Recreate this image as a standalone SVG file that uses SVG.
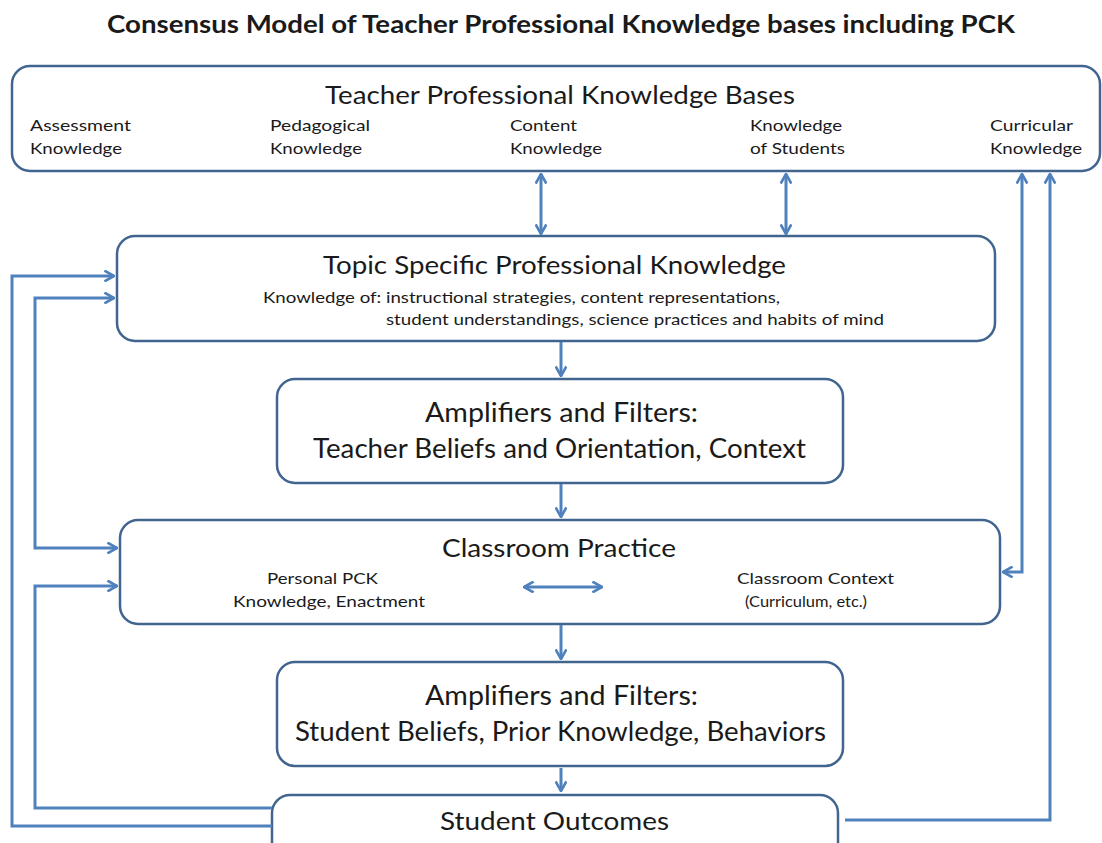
<svg xmlns="http://www.w3.org/2000/svg" width="1102" height="843" viewBox="0 0 1102 843">
<style>
.box{fill:#fff;stroke:#41658f;stroke-width:2.5}
.t{font-family:Lato,"Liberation Sans",sans-serif;fill:#1a1a1a}
.h{font-size:25px}
.s{font-size:15px}
.b{font-size:26px}
.c{fill:none;stroke:#4f81bd;stroke-width:3}
</style>
<defs>
<marker id="ah" markerWidth="12" markerHeight="12" refX="9" refY="5" orient="auto-start-reverse" markerUnits="userSpaceOnUse" viewBox="0 0 10 10">
<path d="M1,0.5 L9,5 L1,9.5" fill="none" stroke="#4f81bd" stroke-width="2.2"/>
</marker>
</defs>
<rect width="1102" height="843" fill="#fff"/>
<text class="t" x="107" y="33" font-size="24" font-weight="bold" textLength="908" lengthAdjust="spacingAndGlyphs">Consensus Model of Teacher Professional Knowledge bases including PCK</text>

<g id="knowledge-bases">
<rect class="box" x="12" y="66" width="1088" height="105" rx="18"/>
<text class="t h" x="325" y="104" textLength="470" lengthAdjust="spacingAndGlyphs">Teacher Professional Knowledge Bases</text>
<text class="t s" x="30" y="131" textLength="101" lengthAdjust="spacingAndGlyphs">Assessment</text>
<text class="t s" x="30" y="154" textLength="92" lengthAdjust="spacingAndGlyphs">Knowledge</text>
<text class="t s" x="270" y="131" textLength="100" lengthAdjust="spacingAndGlyphs">Pedagogical</text>
<text class="t s" x="270" y="154" textLength="92" lengthAdjust="spacingAndGlyphs">Knowledge</text>
<text class="t s" x="510" y="131" textLength="67" lengthAdjust="spacingAndGlyphs">Content</text>
<text class="t s" x="510" y="154" textLength="92" lengthAdjust="spacingAndGlyphs">Knowledge</text>
<text class="t s" x="750" y="131" textLength="92" lengthAdjust="spacingAndGlyphs">Knowledge</text>
<text class="t s" x="750" y="154" textLength="95" lengthAdjust="spacingAndGlyphs">of Students</text>
<text class="t s" x="990" y="131" textLength="83" lengthAdjust="spacingAndGlyphs">Curricular</text>
<text class="t s" x="990" y="154" textLength="92" lengthAdjust="spacingAndGlyphs">Knowledge</text>
</g>

<g id="topic-specific">
<rect class="box" x="117" y="236" width="878" height="105" rx="18"/>
<text class="t h" x="323" y="274" textLength="463" lengthAdjust="spacingAndGlyphs">Topic Specific Professional Knowledge</text>
<text class="t s" x="263" y="303" textLength="517" lengthAdjust="spacingAndGlyphs">Knowledge of: instructional strategies, content representations,</text>
<text class="t s" x="386" y="325" textLength="498" lengthAdjust="spacingAndGlyphs">student understandings, science practices and habits of mind</text>
</g>

<g id="teacher-filters">
<rect class="box" x="277" y="379" width="566" height="104" rx="18"/>
<text class="t b" x="425" y="422" textLength="273" lengthAdjust="spacingAndGlyphs">Amplifiers and Filters:</text>
<text class="t b" x="313" y="458" textLength="493" lengthAdjust="spacingAndGlyphs">Teacher Beliefs and Orientation, Context</text>
</g>

<g id="classroom-practice">
<rect class="box" x="120" y="520" width="880" height="104" rx="18"/>
<text class="t h" x="442" y="557" textLength="234" lengthAdjust="spacingAndGlyphs">Classroom Practice</text>
<text class="t s" x="267" y="584" textLength="111" lengthAdjust="spacingAndGlyphs">Personal PCK</text>
<text class="t s" x="233" y="607" textLength="192" lengthAdjust="spacingAndGlyphs">Knowledge, Enactment</text>
<text class="t s" x="737" y="584" textLength="157" lengthAdjust="spacingAndGlyphs">Classroom Context</text>
<text class="t s" x="745" y="607" textLength="122" lengthAdjust="spacingAndGlyphs">(Curriculum, etc.)</text>
</g>

<g id="student-filters">
<rect class="box" x="277" y="662" width="566" height="104" rx="18"/>
<text class="t b" x="425" y="705" textLength="273" lengthAdjust="spacingAndGlyphs">Amplifiers and Filters:</text>
<text class="t b" x="295" y="741" textLength="531" lengthAdjust="spacingAndGlyphs">Student Beliefs, Prior Knowledge, Behaviors</text>
</g>

<g id="student-outcomes">
<rect class="box" x="272" y="795" width="566" height="100" rx="18"/>
<text class="t h" x="440" y="830" textLength="229" lengthAdjust="spacingAndGlyphs">Student Outcomes</text>
</g>

<g id="connectors">
<path class="c" d="M541,174 V234" marker-start="url(#ah)" marker-end="url(#ah)"/>
<path class="c" d="M786,174 V234" marker-start="url(#ah)" marker-end="url(#ah)"/>
<path class="c" d="M561,342 V376" marker-end="url(#ah)"/>
<path class="c" d="M561,484 V517" marker-end="url(#ah)"/>
<path class="c" d="M561,625 V659" marker-end="url(#ah)"/>
<path class="c" d="M561,768 V791" marker-end="url(#ah)"/>
<path class="c" d="M524,587 H602" marker-start="url(#ah)" marker-end="url(#ah)"/>
<path class="c" d="M272,826 H12 V276 H114" marker-end="url(#ah)"/>
<path class="c" d="M114,298 H35 V548 H117" marker-start="url(#ah)" marker-end="url(#ah)"/>
<path class="c" d="M272,808 H35 V586 H117" marker-end="url(#ah)"/>
<path class="c" d="M1022,174 V572 H1003" marker-start="url(#ah)" marker-end="url(#ah)"/>
<path class="c" d="M845,820 H1050 V174" marker-end="url(#ah)"/>
</g>
</svg>
